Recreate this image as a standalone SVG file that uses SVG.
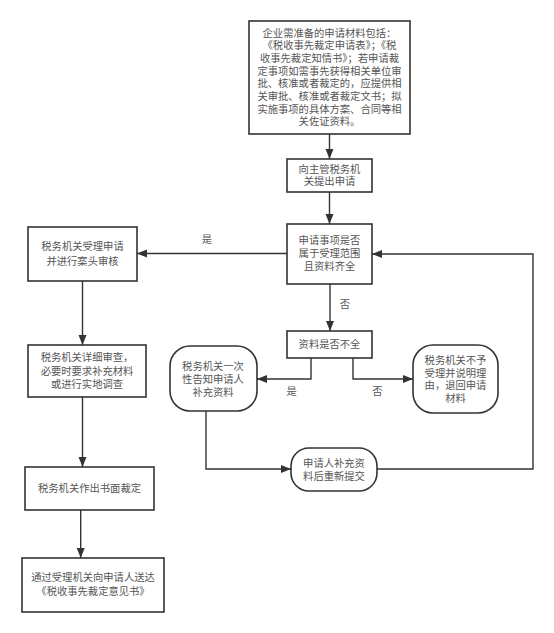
<svg xmlns="http://www.w3.org/2000/svg" width="554" height="633" viewBox="0 0 554 633">
<style>
.box{fill:#fff;stroke:#333;stroke-width:1.6}
.t{font-family:"Liberation Serif","Noto Sans CJK SC",serif;font-size:10.3px;fill:#555;text-anchor:middle;dominant-baseline:central}
.c{fill:none;stroke:#333;stroke-width:1.4}
</style>
<defs>
<marker id="ah" markerUnits="userSpaceOnUse" markerWidth="12" markerHeight="10" refX="10" refY="4" orient="auto">
<path d="M0,0 L10,4 L0,8 z" fill="#333"/>
</marker>
</defs>
<rect width="554" height="633" fill="#fff"/>
<g id="n1">
<rect class="box" x="249" y="21" width="161" height="113"/>
<text class="t" x="329.5" y="33.3">企业需准备的申请材料包括：</text>
<text class="t" x="329.5" y="45.9">《税收事先裁定申请表》；《税</text>
<text class="t" x="329.5" y="58.6">收事先裁定知情书》；若申请裁</text>
<text class="t" x="329.5" y="71.2">定事项如需事先获得相关单位审</text>
<text class="t" x="329.5" y="83.8">批、核准或者裁定的，应提供相</text>
<text class="t" x="329.5" y="96.5">关审批、核准或者裁定文书；拟</text>
<text class="t" x="329.5" y="109.1">实施事项的具体方案、合同等相</text>
<text class="t" x="329.5" y="121.7">关佐证资料。</text>
</g>
<g id="n2">
<rect class="box" x="287" y="159" width="85" height="33"/>
<text class="t" x="329.5" y="169">向主管税务机</text>
<text class="t" x="329.5" y="181.7">关提出申请</text>
</g>
<g id="n3">
<rect class="box" x="287" y="224" width="85" height="60"/>
<text class="t" x="329.5" y="240.5">申请事项是否</text>
<text class="t" x="329.5" y="253.5">属于受理范围</text>
<text class="t" x="329.5" y="266.5">且资料齐全</text>
</g>
<g id="nA">
<rect class="box" x="28" y="227" width="109" height="54"/>
<text class="t" x="82.5" y="246.5">税务机关受理申请</text>
<text class="t" x="82.5" y="261">并进行案头审核</text>
</g>
<g id="nE">
<rect class="box" x="28" y="345" width="118" height="52"/>
<text class="t" x="87" y="357.5">税务机关详细审查，</text>
<text class="t" x="87" y="371">必要时要求补充材料</text>
<text class="t" x="87" y="384.5">或进行实地调查</text>
</g>
<g id="nF">
<rect class="box" x="25" y="467" width="129" height="43"/>
<text class="t" x="89.5" y="488.3">税务机关作出书面裁定</text>
</g>
<g id="nG">
<rect class="box" x="22" y="558" width="142" height="54"/>
<text class="t" x="93" y="577.5">通过受理机关向申请人送达</text>
<text class="t" x="93" y="591">《税收事先裁定意见书》</text>
</g>
<g id="n4">
<rect class="box" x="287" y="331" width="85" height="27"/>
<text class="t" x="329.5" y="344.5">资料是否不全</text>
</g>
<g id="nB">
<rect class="box" x="170" y="346" width="87" height="65" rx="20" ry="20"/>
<text class="t" x="213" y="366">税务机关一次</text>
<text class="t" x="213" y="379">性告知申请人</text>
<text class="t" x="213" y="392">补充资料</text>
</g>
<g id="nD">
<rect class="box" x="413" y="345" width="85" height="68" rx="20" ry="20"/>
<text class="t" x="455.5" y="360.5">税务机关不予</text>
<text class="t" x="455.5" y="373">受理并说明理</text>
<text class="t" x="455.5" y="385.5">由，退回申请</text>
<text class="t" x="455.5" y="398">材料</text>
</g>
<g id="nC">
<rect class="box" x="291" y="448" width="86" height="43" rx="18" ry="18"/>
<text class="t" x="334" y="463.3">申请人补充资</text>
<text class="t" x="334" y="476.7">料后重新提交</text>
</g>
<g id="connectors">
<path class="c" d="M329.5,134 V159" marker-end="url(#ah)"/>
<path class="c" d="M329.5,192 V224" marker-end="url(#ah)"/>
<path class="c" d="M287,253.5 H137" marker-end="url(#ah)"/>
<path class="c" d="M82.5,281 V345" marker-end="url(#ah)"/>
<path class="c" d="M82.5,397 V467" marker-end="url(#ah)"/>
<path class="c" d="M80.7,510 V558" marker-end="url(#ah)"/>
<path class="c" d="M330,284 V331" marker-end="url(#ah)"/>
<path class="c" d="M311,358 V379 H257" marker-end="url(#ah)"/>
<path class="c" d="M353,358 V379 H413" marker-end="url(#ah)"/>
<path class="c" d="M206,411 V469 H291" marker-end="url(#ah)"/>
<path class="c" d="M377,469 H533 V254 H372" marker-end="url(#ah)"/>
<text class="t" x="207" y="239">是</text>
<text class="t" x="345" y="304">否</text>
<text class="t" x="291.7" y="391">是</text>
<text class="t" x="377.3" y="391.7">否</text>
</g>
</svg>
